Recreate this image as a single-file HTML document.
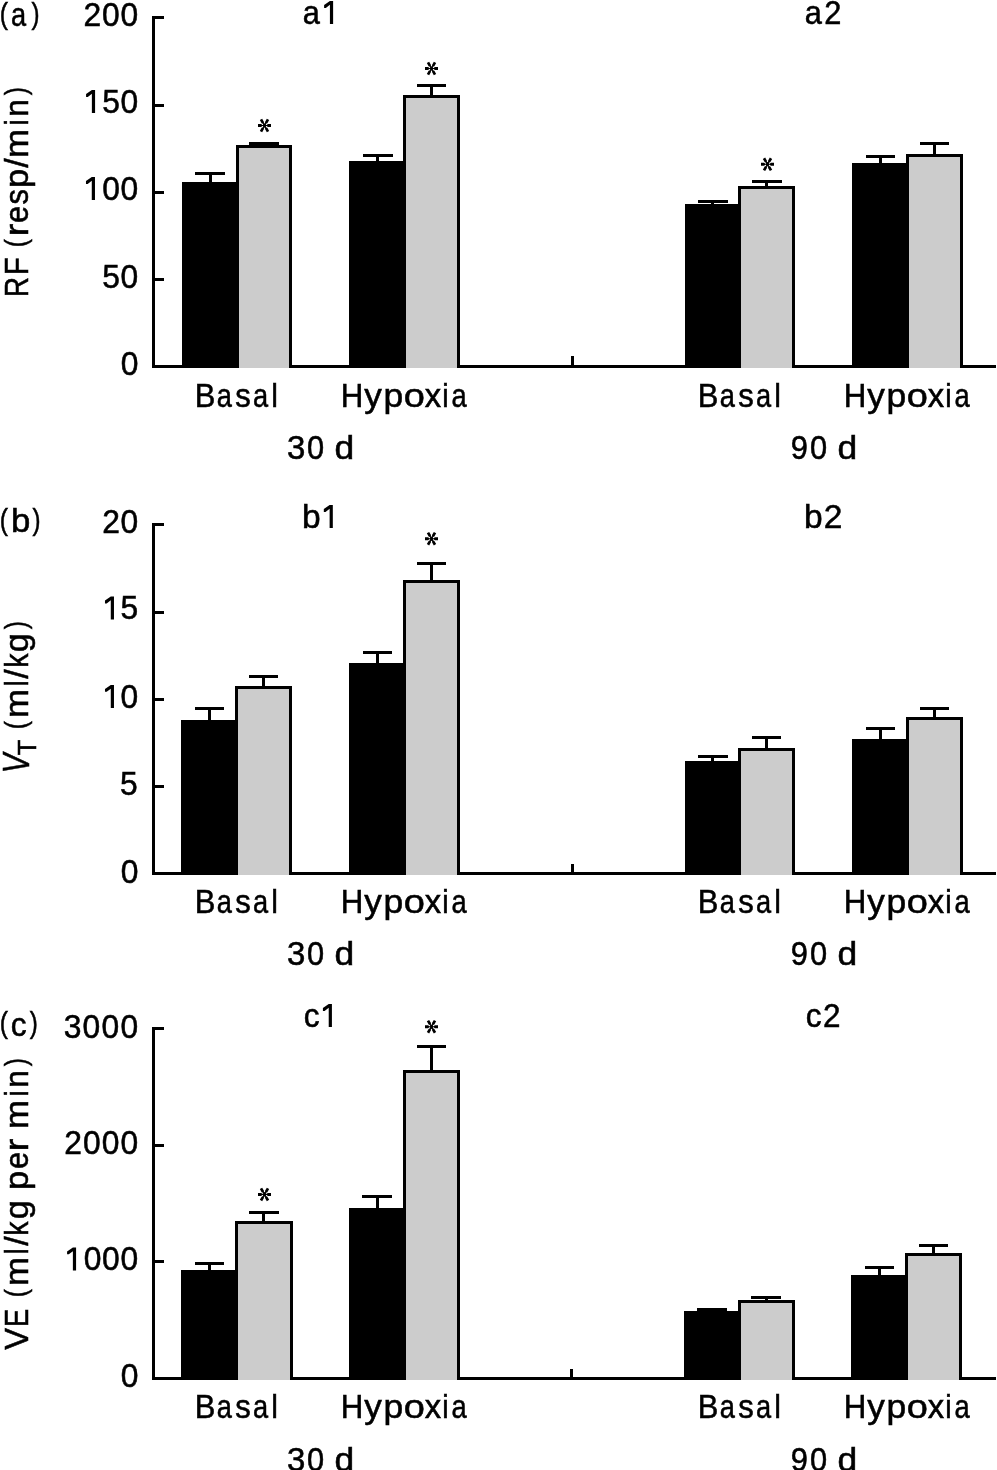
<!DOCTYPE html>
<html><head><meta charset="utf-8"><title>Figure</title>
<style>
html,body{margin:0;padding:0;background:#fff;}
body{width:997px;height:1470px;overflow:hidden;}
svg{display:block;will-change:transform;}
text{font-family:"Liberation Sans",sans-serif;fill:#000;font-kerning:none;stroke:#000;stroke-width:0.55px;}
</style></head><body>
<svg width="997" height="1470" viewBox="0 0 997 1470" shape-rendering="crispEdges">
<rect x="0" y="0" width="997" height="1470" fill="#fff"/>
<rect x="152" y="16" width="3" height="352" fill="#000"/>
<rect x="152" y="365" width="844" height="3" fill="#000"/>
<rect x="571" y="356" width="3" height="9" fill="#000"/>
<rect x="152" y="16" width="12" height="3" fill="#000"/>
<text font-size="33.5" transform="scale(0.95,1)"><tspan x="87.93" y="26.00">2</tspan><tspan x="107.36" y="26.00">0</tspan><tspan x="126.80" y="26.00">0</tspan></text>
<rect x="152" y="104" width="12" height="3" fill="#000"/>
<text font-size="33.5" transform="scale(0.95,1)"><tspan x="107.76" y="113.00">5</tspan><tspan x="126.80" y="113.00">0</tspan></text>
<g fill="#000" shape-rendering="geometricPrecision"><polygon points="91.88,90.00 95.08,90.00 95.08,113.00 91.88,113.00 91.88,93.80 87.78,96.90 86.08,96.90 86.08,94.00"/></g>
<rect x="152" y="191" width="12" height="3" fill="#000"/>
<text font-size="33.5" transform="scale(0.95,1)"><tspan x="107.71" y="200.00">0</tspan><tspan x="126.80" y="200.00">0</tspan></text>
<g fill="#000" shape-rendering="geometricPrecision"><polygon points="91.78,177.00 94.98,177.00 94.98,200.00 91.78,200.00 91.78,180.80 87.68,183.90 85.98,183.90 85.98,181.00"/></g>
<rect x="152" y="278" width="12" height="3" fill="#000"/>
<text font-size="33.5" transform="scale(0.95,1)"><tspan x="107.59" y="288.20">5</tspan><tspan x="126.80" y="288.20">0</tspan></text>
<text font-size="33.5" transform="scale(0.95,1)"><tspan x="126.99" y="374.80">0</tspan></text>
<rect x="152" y="523" width="3" height="352" fill="#000"/>
<rect x="152" y="872" width="844" height="3" fill="#000"/>
<rect x="571" y="864" width="3" height="8" fill="#000"/>
<rect x="152" y="523" width="12" height="3" fill="#000"/>
<text font-size="33.5" transform="scale(0.95,1)"><tspan x="107.56" y="533.00">2</tspan><tspan x="126.80" y="533.00">0</tspan></text>
<rect x="152" y="611" width="12" height="3" fill="#000"/>
<text font-size="33.5" transform="scale(0.95,1)"><tspan x="126.90" y="619.50">5</tspan></text>
<g fill="#000" shape-rendering="geometricPrecision"><polygon points="110.78,596.50 113.98,596.50 113.98,619.50 110.78,619.50 110.78,600.30 106.68,603.40 104.98,603.40 104.98,600.50"/></g>
<rect x="152" y="698" width="12" height="3" fill="#000"/>
<text font-size="33.5" transform="scale(0.95,1)"><tspan x="126.80" y="707.90">0</tspan></text>
<g fill="#000" shape-rendering="geometricPrecision"><polygon points="110.78,684.90 113.98,684.90 113.98,707.90 110.78,707.90 110.78,688.70 106.68,691.80 104.98,691.80 104.98,688.90"/></g>
<rect x="152" y="785" width="12" height="3" fill="#000"/>
<text font-size="33.5" transform="scale(0.95,1)"><tspan x="126.32" y="795.20">5</tspan></text>
<text font-size="33.5" transform="scale(0.95,1)"><tspan x="126.99" y="882.80">0</tspan></text>
<rect x="152" y="1027" width="3" height="353" fill="#000"/>
<rect x="152" y="1377" width="844" height="3" fill="#000"/>
<rect x="570" y="1369" width="3" height="8" fill="#000"/>
<rect x="152" y="1027" width="12" height="3" fill="#000"/>
<text font-size="33.5" transform="scale(0.95,1)"><tspan x="67.02" y="1037.80">3</tspan><tspan x="86.95" y="1037.80">0</tspan><tspan x="106.88" y="1037.80">0</tspan><tspan x="126.80" y="1037.80">0</tspan></text>
<rect x="152" y="1144" width="12" height="3" fill="#000"/>
<text font-size="33.5" transform="scale(0.95,1)"><tspan x="67.66" y="1153.70">2</tspan><tspan x="87.38" y="1153.70">0</tspan><tspan x="107.09" y="1153.70">0</tspan><tspan x="126.80" y="1153.70">0</tspan></text>
<rect x="152" y="1260" width="12" height="3" fill="#000"/>
<text font-size="33.5" transform="scale(0.95,1)"><tspan x="88.08" y="1270.40">0</tspan><tspan x="107.44" y="1270.40">0</tspan><tspan x="126.80" y="1270.40">0</tspan></text>
<g fill="#000" shape-rendering="geometricPrecision"><polygon points="72.88,1247.40 76.08,1247.40 76.08,1270.40 72.88,1270.40 72.88,1251.20 68.78,1254.30 67.08,1254.30 67.08,1251.40"/></g>
<text font-size="33.5" transform="scale(0.95,1)"><tspan x="126.99" y="1386.90">0</tspan></text>
<rect x="182" y="182" width="55" height="186" fill="#000"/>
<rect x="236" y="145" width="56" height="223" fill="#000"/>
<rect x="239" y="148" width="50" height="220" fill="#ccc"/>
<rect x="195" y="172" width="30" height="3" fill="#000"/>
<rect x="209" y="175" width="3" height="7" fill="#000"/>
<rect x="249" y="142" width="30" height="3" fill="#000"/>
<rect x="349" y="161" width="55" height="207" fill="#000"/>
<rect x="403" y="95" width="57" height="273" fill="#000"/>
<rect x="406" y="98" width="51" height="270" fill="#ccc"/>
<rect x="363" y="154" width="30" height="3" fill="#000"/>
<rect x="376" y="157" width="3" height="4" fill="#000"/>
<rect x="417" y="84" width="29" height="3" fill="#000"/>
<rect x="430" y="87" width="3" height="8" fill="#000"/>
<rect x="685" y="204" width="54" height="164" fill="#000"/>
<rect x="738" y="186" width="57" height="182" fill="#000"/>
<rect x="741" y="189" width="51" height="179" fill="#ccc"/>
<rect x="698" y="200" width="30" height="3" fill="#000"/>
<rect x="711" y="203" width="3" height="1" fill="#000"/>
<rect x="752" y="180" width="30" height="3" fill="#000"/>
<rect x="765" y="183" width="3" height="3" fill="#000"/>
<rect x="852" y="163" width="55" height="205" fill="#000"/>
<rect x="906" y="154" width="57" height="214" fill="#000"/>
<rect x="909" y="157" width="51" height="211" fill="#ccc"/>
<rect x="866" y="155" width="29" height="3" fill="#000"/>
<rect x="879" y="158" width="3" height="5" fill="#000"/>
<rect x="920" y="142" width="29" height="3" fill="#000"/>
<rect x="933" y="145" width="3" height="9" fill="#000"/>
<rect x="181" y="720" width="55" height="155" fill="#000"/>
<rect x="235" y="686" width="57" height="189" fill="#000"/>
<rect x="238" y="689" width="51" height="186" fill="#ccc"/>
<rect x="195" y="707" width="29" height="3" fill="#000"/>
<rect x="208" y="710" width="3" height="10" fill="#000"/>
<rect x="249" y="675" width="29" height="3" fill="#000"/>
<rect x="262" y="678" width="3" height="8" fill="#000"/>
<rect x="349" y="663" width="55" height="212" fill="#000"/>
<rect x="403" y="580" width="57" height="295" fill="#000"/>
<rect x="406" y="583" width="51" height="292" fill="#ccc"/>
<rect x="363" y="651" width="29" height="3" fill="#000"/>
<rect x="376" y="654" width="3" height="9" fill="#000"/>
<rect x="417" y="562" width="29" height="3" fill="#000"/>
<rect x="430" y="565" width="3" height="15" fill="#000"/>
<rect x="685" y="761" width="54" height="114" fill="#000"/>
<rect x="738" y="748" width="57" height="127" fill="#000"/>
<rect x="741" y="751" width="51" height="124" fill="#ccc"/>
<rect x="698" y="755" width="30" height="3" fill="#000"/>
<rect x="711" y="758" width="3" height="3" fill="#000"/>
<rect x="752" y="736" width="29" height="3" fill="#000"/>
<rect x="765" y="739" width="3" height="9" fill="#000"/>
<rect x="852" y="739" width="55" height="136" fill="#000"/>
<rect x="906" y="717" width="57" height="158" fill="#000"/>
<rect x="909" y="720" width="51" height="155" fill="#ccc"/>
<rect x="866" y="727" width="29" height="3" fill="#000"/>
<rect x="879" y="730" width="3" height="9" fill="#000"/>
<rect x="920" y="707" width="29" height="3" fill="#000"/>
<rect x="933" y="710" width="3" height="7" fill="#000"/>
<rect x="181" y="1270" width="55" height="110" fill="#000"/>
<rect x="235" y="1221" width="58" height="159" fill="#000"/>
<rect x="238" y="1224" width="52" height="156" fill="#ccc"/>
<rect x="195" y="1262" width="29" height="3" fill="#000"/>
<rect x="208" y="1265" width="3" height="5" fill="#000"/>
<rect x="249" y="1211" width="30" height="3" fill="#000"/>
<rect x="262" y="1214" width="3" height="7" fill="#000"/>
<rect x="349" y="1208" width="55" height="172" fill="#000"/>
<rect x="403" y="1070" width="57" height="310" fill="#000"/>
<rect x="406" y="1073" width="51" height="307" fill="#ccc"/>
<rect x="362" y="1195" width="30" height="3" fill="#000"/>
<rect x="376" y="1198" width="3" height="10" fill="#000"/>
<rect x="417" y="1045" width="29" height="3" fill="#000"/>
<rect x="430" y="1048" width="3" height="22" fill="#000"/>
<rect x="684" y="1311" width="55" height="69" fill="#000"/>
<rect x="738" y="1300" width="57" height="80" fill="#000"/>
<rect x="741" y="1303" width="51" height="77" fill="#ccc"/>
<rect x="697" y="1308" width="30" height="3" fill="#000"/>
<rect x="751" y="1296" width="30" height="3" fill="#000"/>
<rect x="765" y="1299" width="3" height="1" fill="#000"/>
<rect x="851" y="1275" width="55" height="105" fill="#000"/>
<rect x="905" y="1253" width="57" height="127" fill="#000"/>
<rect x="908" y="1256" width="51" height="124" fill="#ccc"/>
<rect x="865" y="1266" width="29" height="3" fill="#000"/>
<rect x="878" y="1269" width="3" height="6" fill="#000"/>
<rect x="919" y="1244" width="29" height="3" fill="#000"/>
<rect x="932" y="1247" width="3" height="6" fill="#000"/>
<g transform="translate(264.5,125.5)" fill="#000" shape-rendering="geometricPrecision"><ellipse cx="0" cy="0" rx="1.5" ry="2.3"/><polygon points="0.00,0.45 2.20,0.55 3.40,1.50 6.50,1.50 6.50,-1.50 3.40,-1.50 2.20,-0.55 0.00,-0.45"/><polygon points="-0.00,-0.45 -2.20,-0.55 -3.40,-1.50 -6.50,-1.50 -6.50,1.50 -3.40,1.50 -2.20,0.55 0.00,0.45"/><polygon points="-0.39,0.23 0.62,2.18 0.53,3.62 2.33,6.74 4.67,5.39 2.87,2.27 1.58,1.63 0.39,-0.23"/><polygon points="-0.39,-0.22 -1.58,1.63 -2.87,2.27 -4.67,5.39 -2.33,6.74 -0.53,3.62 -0.62,2.18 0.39,0.22"/><polygon points="0.39,-0.23 -0.62,-2.18 -0.53,-3.62 -2.33,-6.74 -4.67,-5.39 -2.87,-2.27 -1.58,-1.63 -0.39,0.23"/><polygon points="0.39,0.23 1.58,-1.63 2.87,-2.27 4.67,-5.39 2.33,-6.74 0.53,-3.62 0.62,-2.18 -0.39,-0.23"/></g>
<g transform="translate(431.5,68.5)" fill="#000" shape-rendering="geometricPrecision"><ellipse cx="0" cy="0" rx="1.5" ry="2.3"/><polygon points="0.00,0.45 2.20,0.55 3.40,1.50 6.50,1.50 6.50,-1.50 3.40,-1.50 2.20,-0.55 0.00,-0.45"/><polygon points="-0.00,-0.45 -2.20,-0.55 -3.40,-1.50 -6.50,-1.50 -6.50,1.50 -3.40,1.50 -2.20,0.55 0.00,0.45"/><polygon points="-0.39,0.23 0.62,2.18 0.53,3.62 2.33,6.74 4.67,5.39 2.87,2.27 1.58,1.63 0.39,-0.23"/><polygon points="-0.39,-0.22 -1.58,1.63 -2.87,2.27 -4.67,5.39 -2.33,6.74 -0.53,3.62 -0.62,2.18 0.39,0.22"/><polygon points="0.39,-0.23 -0.62,-2.18 -0.53,-3.62 -2.33,-6.74 -4.67,-5.39 -2.87,-2.27 -1.58,-1.63 -0.39,0.23"/><polygon points="0.39,0.23 1.58,-1.63 2.87,-2.27 4.67,-5.39 2.33,-6.74 0.53,-3.62 0.62,-2.18 -0.39,-0.23"/></g>
<g transform="translate(767.5,164.3)" fill="#000" shape-rendering="geometricPrecision"><ellipse cx="0" cy="0" rx="1.5" ry="2.3"/><polygon points="0.00,0.45 2.20,0.55 3.40,1.50 6.50,1.50 6.50,-1.50 3.40,-1.50 2.20,-0.55 0.00,-0.45"/><polygon points="-0.00,-0.45 -2.20,-0.55 -3.40,-1.50 -6.50,-1.50 -6.50,1.50 -3.40,1.50 -2.20,0.55 0.00,0.45"/><polygon points="-0.39,0.23 0.62,2.18 0.53,3.62 2.33,6.74 4.67,5.39 2.87,2.27 1.58,1.63 0.39,-0.23"/><polygon points="-0.39,-0.22 -1.58,1.63 -2.87,2.27 -4.67,5.39 -2.33,6.74 -0.53,3.62 -0.62,2.18 0.39,0.22"/><polygon points="0.39,-0.23 -0.62,-2.18 -0.53,-3.62 -2.33,-6.74 -4.67,-5.39 -2.87,-2.27 -1.58,-1.63 -0.39,0.23"/><polygon points="0.39,0.23 1.58,-1.63 2.87,-2.27 4.67,-5.39 2.33,-6.74 0.53,-3.62 0.62,-2.18 -0.39,-0.23"/></g>
<g transform="translate(431.5,538.7)" fill="#000" shape-rendering="geometricPrecision"><ellipse cx="0" cy="0" rx="1.5" ry="2.3"/><polygon points="0.00,0.45 2.20,0.55 3.40,1.50 6.50,1.50 6.50,-1.50 3.40,-1.50 2.20,-0.55 0.00,-0.45"/><polygon points="-0.00,-0.45 -2.20,-0.55 -3.40,-1.50 -6.50,-1.50 -6.50,1.50 -3.40,1.50 -2.20,0.55 0.00,0.45"/><polygon points="-0.39,0.23 0.62,2.18 0.53,3.62 2.33,6.74 4.67,5.39 2.87,2.27 1.58,1.63 0.39,-0.23"/><polygon points="-0.39,-0.22 -1.58,1.63 -2.87,2.27 -4.67,5.39 -2.33,6.74 -0.53,3.62 -0.62,2.18 0.39,0.22"/><polygon points="0.39,-0.23 -0.62,-2.18 -0.53,-3.62 -2.33,-6.74 -4.67,-5.39 -2.87,-2.27 -1.58,-1.63 -0.39,0.23"/><polygon points="0.39,0.23 1.58,-1.63 2.87,-2.27 4.67,-5.39 2.33,-6.74 0.53,-3.62 0.62,-2.18 -0.39,-0.23"/></g>
<g transform="translate(264.5,1194.4)" fill="#000" shape-rendering="geometricPrecision"><ellipse cx="0" cy="0" rx="1.5" ry="2.3"/><polygon points="0.00,0.45 2.20,0.55 3.40,1.50 6.50,1.50 6.50,-1.50 3.40,-1.50 2.20,-0.55 0.00,-0.45"/><polygon points="-0.00,-0.45 -2.20,-0.55 -3.40,-1.50 -6.50,-1.50 -6.50,1.50 -3.40,1.50 -2.20,0.55 0.00,0.45"/><polygon points="-0.39,0.23 0.62,2.18 0.53,3.62 2.33,6.74 4.67,5.39 2.87,2.27 1.58,1.63 0.39,-0.23"/><polygon points="-0.39,-0.22 -1.58,1.63 -2.87,2.27 -4.67,5.39 -2.33,6.74 -0.53,3.62 -0.62,2.18 0.39,0.22"/><polygon points="0.39,-0.23 -0.62,-2.18 -0.53,-3.62 -2.33,-6.74 -4.67,-5.39 -2.87,-2.27 -1.58,-1.63 -0.39,0.23"/><polygon points="0.39,0.23 1.58,-1.63 2.87,-2.27 4.67,-5.39 2.33,-6.74 0.53,-3.62 0.62,-2.18 -0.39,-0.23"/></g>
<g transform="translate(431.5,1026.7)" fill="#000" shape-rendering="geometricPrecision"><ellipse cx="0" cy="0" rx="1.5" ry="2.3"/><polygon points="0.00,0.45 2.20,0.55 3.40,1.50 6.50,1.50 6.50,-1.50 3.40,-1.50 2.20,-0.55 0.00,-0.45"/><polygon points="-0.00,-0.45 -2.20,-0.55 -3.40,-1.50 -6.50,-1.50 -6.50,1.50 -3.40,1.50 -2.20,0.55 0.00,0.45"/><polygon points="-0.39,0.23 0.62,2.18 0.53,3.62 2.33,6.74 4.67,5.39 2.87,2.27 1.58,1.63 0.39,-0.23"/><polygon points="-0.39,-0.22 -1.58,1.63 -2.87,2.27 -4.67,5.39 -2.33,6.74 -0.53,3.62 -0.62,2.18 0.39,0.22"/><polygon points="0.39,-0.23 -0.62,-2.18 -0.53,-3.62 -2.33,-6.74 -4.67,-5.39 -2.87,-2.27 -1.58,-1.63 -0.39,0.23"/><polygon points="0.39,0.23 1.58,-1.63 2.87,-2.27 4.67,-5.39 2.33,-6.74 0.53,-3.62 0.62,-2.18 -0.39,-0.23"/></g>
<text font-size="33.5" transform="scale(0.92,1)"><tspan x="329.21" y="24.00">a</tspan></text>
<g fill="#000" shape-rendering="geometricPrecision"><polygon points="329.92,1.00 333.12,1.00 333.12,24.00 329.92,24.00 329.92,4.80 325.82,7.90 324.12,7.90 324.12,5.00"/></g>
<text font-size="33.5" transform="scale(0.92,1)"><tspan x="874.75" y="24.00">a</tspan><tspan x="896.01" y="24.00">2</tspan></text>
<text font-size="33.5"><tspan x="301.92" y="528.00">b</tspan></text>
<g fill="#000" shape-rendering="geometricPrecision"><polygon points="329.62,505.00 332.82,505.00 332.82,528.00 329.62,528.00 329.62,508.80 325.52,511.90 323.82,511.90 323.82,509.00"/></g>
<text font-size="33.5"><tspan x="803.92" y="528.00">b</tspan><tspan x="823.77" y="528.00">2</tspan></text>
<text font-size="33.5" transform="scale(0.94,1)"><tspan x="323.02" y="1027.00">c</tspan></text>
<g fill="#000" shape-rendering="geometricPrecision"><polygon points="328.72,1004.00 331.92,1004.00 331.92,1027.00 328.72,1027.00 328.72,1007.80 324.62,1010.90 322.92,1010.90 322.92,1008.00"/></g>
<text font-size="33.5" transform="scale(0.94,1)"><tspan x="857.28" y="1027.00">c</tspan><tspan x="875.52" y="1027.00">2</tspan></text>
<text transform="translate(28.00,294.72) rotate(-90) scale(0.8144,1)" x="-2.79" y="0" font-size="34.00">R</text>
<text transform="translate(28.00,272.72) rotate(-90) scale(0.8689,1)" x="-2.79" y="0" font-size="34.00">F</text>
<text transform="translate(25.70,245.72) rotate(-90) scale(0.8056,1)" x="-1.87" y="0" font-size="30.15">(</text>
<text transform="translate(28.00,233.72) rotate(-90) scale(1.1106,1)" x="-2.26" y="0" font-size="34.00">r</text>
<text transform="translate(28.00,221.72) rotate(-90) scale(0.9051,1)" x="-1.44" y="0" font-size="34.00">e</text>
<text transform="translate(28.00,203.72) rotate(-90) scale(0.9066,1)" x="-0.95" y="0" font-size="34.00">s</text>
<text transform="translate(28.00,185.72) rotate(-90) scale(1.0098,1)" x="-2.19" y="0" font-size="34.00">p</text>
<text transform="translate(28.00,167.72) rotate(-90) scale(0.9993,1)" x="-0.00" y="0" font-size="34.00">/</text>
<text transform="translate(28.00,155.72) rotate(-90) scale(1.0259,1)" x="-2.26" y="0" font-size="34.00">m</text>
<text transform="translate(28.00,123.72) rotate(-90) scale(0.8165,1)" x="-2.27" y="0" font-size="34.00">i</text>
<text transform="translate(28.00,114.72) rotate(-90) scale(0.9305,1)" x="-2.26" y="0" font-size="34.00">n</text>
<text transform="translate(25.70,95.10) rotate(-90) scale(0.8000,1)" x="-0.18" y="0" font-size="30.15">)</text>
<text transform="translate(28.00,1349.72) rotate(-90) scale(0.9580,1)" x="-0.15" y="0" font-size="34.00">V</text>
<text transform="translate(28.00,1324.87) rotate(-90) scale(0.8000,1)" x="-2.79" y="0" font-size="34.00">E</text>
<text transform="translate(25.70,1295.72) rotate(-90) scale(0.8056,1)" x="-1.87" y="0" font-size="30.15">(</text>
<text transform="translate(28.00,1283.72) rotate(-90) scale(1.0259,1)" x="-2.26" y="0" font-size="34.00">m</text>
<text transform="translate(28.00,1252.72) rotate(-90) scale(0.8165,1)" x="-2.29" y="0" font-size="34.00">l</text>
<text transform="translate(28.00,1245.72) rotate(-90) scale(0.9993,1)" x="-0.00" y="0" font-size="34.00">/</text>
<text transform="translate(28.00,1233.72) rotate(-90) scale(0.8429,1)" x="-2.29" y="0" font-size="34.00">k</text>
<text transform="translate(28.00,1217.72) rotate(-90) scale(1.0098,1)" x="-1.43" y="0" font-size="34.00">g</text>
<text transform="translate(28.00,1187.72) rotate(-90) scale(1.0098,1)" x="-2.19" y="0" font-size="34.00">p</text>
<text transform="translate(28.00,1167.72) rotate(-90) scale(0.9051,1)" x="-1.44" y="0" font-size="34.00">e</text>
<text transform="translate(28.00,1148.72) rotate(-90) scale(1.1106,1)" x="-2.26" y="0" font-size="34.00">r</text>
<text transform="translate(28.00,1126.72) rotate(-90) scale(1.0259,1)" x="-2.26" y="0" font-size="34.00">m</text>
<text transform="translate(28.00,1094.72) rotate(-90) scale(0.8165,1)" x="-2.27" y="0" font-size="34.00">i</text>
<text transform="translate(28.00,1085.72) rotate(-90) scale(0.9305,1)" x="-2.26" y="0" font-size="34.00">n</text>
<text transform="translate(25.70,1066.20) rotate(-90) scale(0.8000,1)" x="-0.18" y="0" font-size="30.15">)</text>
<text transform="translate(28.50,770.72) rotate(-90) scale(0.8092,1)" x="-3.15" y="0" font-size="36.50" font-style="italic">V</text>
<text transform="translate(36.00,754.72) rotate(-90) scale(0.9710,1)" x="-0.59" y="0" font-size="26.30">T</text>
<text transform="translate(25.70,727.72) rotate(-90) scale(0.8056,1)" x="-1.87" y="0" font-size="30.15">(</text>
<text transform="translate(28.00,715.72) rotate(-90) scale(1.0259,1)" x="-2.26" y="0" font-size="34.00">m</text>
<text transform="translate(28.00,684.72) rotate(-90) scale(0.8165,1)" x="-2.29" y="0" font-size="34.00">l</text>
<text transform="translate(28.00,678.72) rotate(-90) scale(0.9993,1)" x="-0.00" y="0" font-size="34.00">/</text>
<text transform="translate(28.00,665.72) rotate(-90) scale(0.8429,1)" x="-2.29" y="0" font-size="34.00">k</text>
<text transform="translate(28.00,650.72) rotate(-90) scale(1.0098,1)" x="-1.43" y="0" font-size="34.00">g</text>
<text transform="translate(25.70,629.20) rotate(-90) scale(0.8000,1)" x="-0.18" y="0" font-size="30.15">)</text>
<text transform="translate(197.18,407.00) scale(0.9085,1)" x="-2.79" y="0" font-size="34.00">B</text>
<text transform="translate(217.91,407.00) scale(0.8000,1)" x="-1.44" y="0" font-size="34.00">a</text>
<text transform="translate(236.18,407.00) scale(0.9133,1)" x="-0.95" y="0" font-size="34.00">s</text>
<text transform="translate(254.06,407.00) scale(0.8000,1)" x="-1.44" y="0" font-size="34.00">a</text>
<text transform="translate(273.38,407.00) scale(0.8835,1)" x="-2.29" y="0" font-size="34.00">l</text>
<text transform="translate(343.28,407.00) scale(0.9183,1)" x="-2.79" y="0" font-size="34.00">H</text>
<text transform="translate(364.28,407.00) scale(1.0350,1)" x="-0.08" y="0" font-size="34.00">y</text>
<text transform="translate(385.68,407.00) scale(1.0425,1)" x="-2.19" y="0" font-size="34.00">p</text>
<text transform="translate(405.28,407.00) scale(1.1175,1)" x="-1.43" y="0" font-size="34.00">o</text>
<text transform="translate(424.98,407.00) scale(0.9623,1)" x="-0.38" y="0" font-size="34.00">x</text>
<text transform="translate(444.18,407.00) scale(0.8500,1)" x="-2.27" y="0" font-size="34.00">i</text>
<text transform="translate(452.68,407.00) scale(0.8039,1)" x="-1.44" y="0" font-size="34.00">a</text>
<text transform="translate(288.18,459.00) scale(0.9847,1)" x="-1.28" y="0" font-size="33.50">3</text>
<text transform="translate(308.18,459.00) scale(0.9204,1)" x="-1.31" y="0" font-size="33.50">0</text>
<text transform="translate(335.98,459.00) scale(1.0425,1)" x="-1.43" y="0" font-size="34.00">d</text>
<text transform="translate(700.18,407.00) scale(0.9085,1)" x="-2.79" y="0" font-size="34.00">B</text>
<text transform="translate(720.91,407.00) scale(0.8000,1)" x="-1.44" y="0" font-size="34.00">a</text>
<text transform="translate(739.18,407.00) scale(0.9133,1)" x="-0.95" y="0" font-size="34.00">s</text>
<text transform="translate(757.06,407.00) scale(0.8000,1)" x="-1.44" y="0" font-size="34.00">a</text>
<text transform="translate(776.38,407.00) scale(0.8835,1)" x="-2.29" y="0" font-size="34.00">l</text>
<text transform="translate(846.28,407.00) scale(0.9183,1)" x="-2.79" y="0" font-size="34.00">H</text>
<text transform="translate(867.28,407.00) scale(1.0350,1)" x="-0.08" y="0" font-size="34.00">y</text>
<text transform="translate(888.68,407.00) scale(1.0425,1)" x="-2.19" y="0" font-size="34.00">p</text>
<text transform="translate(908.28,407.00) scale(1.1175,1)" x="-1.43" y="0" font-size="34.00">o</text>
<text transform="translate(927.98,407.00) scale(0.9623,1)" x="-0.38" y="0" font-size="34.00">x</text>
<text transform="translate(947.18,407.00) scale(0.8500,1)" x="-2.27" y="0" font-size="34.00">i</text>
<text transform="translate(955.68,407.00) scale(0.8039,1)" x="-1.44" y="0" font-size="34.00">a</text>
<text transform="translate(792.18,459.00) scale(0.9202,1)" x="-1.57" y="0" font-size="33.50">9</text>
<text transform="translate(811.18,459.00) scale(0.9204,1)" x="-1.31" y="0" font-size="33.50">0</text>
<text transform="translate(838.98,459.00) scale(1.0425,1)" x="-1.43" y="0" font-size="34.00">d</text>
<text transform="translate(197.18,913.00) scale(0.9085,1)" x="-2.79" y="0" font-size="34.00">B</text>
<text transform="translate(217.91,913.00) scale(0.8000,1)" x="-1.44" y="0" font-size="34.00">a</text>
<text transform="translate(236.18,913.00) scale(0.9133,1)" x="-0.95" y="0" font-size="34.00">s</text>
<text transform="translate(254.06,913.00) scale(0.8000,1)" x="-1.44" y="0" font-size="34.00">a</text>
<text transform="translate(273.38,913.00) scale(0.8835,1)" x="-2.29" y="0" font-size="34.00">l</text>
<text transform="translate(343.28,913.00) scale(0.9183,1)" x="-2.79" y="0" font-size="34.00">H</text>
<text transform="translate(364.28,913.00) scale(1.0350,1)" x="-0.08" y="0" font-size="34.00">y</text>
<text transform="translate(385.68,913.00) scale(1.0425,1)" x="-2.19" y="0" font-size="34.00">p</text>
<text transform="translate(405.28,913.00) scale(1.1175,1)" x="-1.43" y="0" font-size="34.00">o</text>
<text transform="translate(424.98,913.00) scale(0.9623,1)" x="-0.38" y="0" font-size="34.00">x</text>
<text transform="translate(444.18,913.00) scale(0.8500,1)" x="-2.27" y="0" font-size="34.00">i</text>
<text transform="translate(452.68,913.00) scale(0.8039,1)" x="-1.44" y="0" font-size="34.00">a</text>
<text transform="translate(288.18,965.00) scale(0.9847,1)" x="-1.28" y="0" font-size="33.50">3</text>
<text transform="translate(308.18,965.00) scale(0.9204,1)" x="-1.31" y="0" font-size="33.50">0</text>
<text transform="translate(335.98,965.00) scale(1.0425,1)" x="-1.43" y="0" font-size="34.00">d</text>
<text transform="translate(700.18,913.00) scale(0.9085,1)" x="-2.79" y="0" font-size="34.00">B</text>
<text transform="translate(720.91,913.00) scale(0.8000,1)" x="-1.44" y="0" font-size="34.00">a</text>
<text transform="translate(739.18,913.00) scale(0.9133,1)" x="-0.95" y="0" font-size="34.00">s</text>
<text transform="translate(757.06,913.00) scale(0.8000,1)" x="-1.44" y="0" font-size="34.00">a</text>
<text transform="translate(776.38,913.00) scale(0.8835,1)" x="-2.29" y="0" font-size="34.00">l</text>
<text transform="translate(846.28,913.00) scale(0.9183,1)" x="-2.79" y="0" font-size="34.00">H</text>
<text transform="translate(867.28,913.00) scale(1.0350,1)" x="-0.08" y="0" font-size="34.00">y</text>
<text transform="translate(888.68,913.00) scale(1.0425,1)" x="-2.19" y="0" font-size="34.00">p</text>
<text transform="translate(908.28,913.00) scale(1.1175,1)" x="-1.43" y="0" font-size="34.00">o</text>
<text transform="translate(927.98,913.00) scale(0.9623,1)" x="-0.38" y="0" font-size="34.00">x</text>
<text transform="translate(947.18,913.00) scale(0.8500,1)" x="-2.27" y="0" font-size="34.00">i</text>
<text transform="translate(955.68,913.00) scale(0.8039,1)" x="-1.44" y="0" font-size="34.00">a</text>
<text transform="translate(792.18,965.00) scale(0.9202,1)" x="-1.57" y="0" font-size="33.50">9</text>
<text transform="translate(811.18,965.00) scale(0.9204,1)" x="-1.31" y="0" font-size="33.50">0</text>
<text transform="translate(838.98,965.00) scale(1.0425,1)" x="-1.43" y="0" font-size="34.00">d</text>
<text transform="translate(197.18,1418.00) scale(0.9085,1)" x="-2.79" y="0" font-size="34.00">B</text>
<text transform="translate(217.91,1418.00) scale(0.8000,1)" x="-1.44" y="0" font-size="34.00">a</text>
<text transform="translate(236.18,1418.00) scale(0.9133,1)" x="-0.95" y="0" font-size="34.00">s</text>
<text transform="translate(254.06,1418.00) scale(0.8000,1)" x="-1.44" y="0" font-size="34.00">a</text>
<text transform="translate(273.38,1418.00) scale(0.8835,1)" x="-2.29" y="0" font-size="34.00">l</text>
<text transform="translate(343.28,1418.00) scale(0.9183,1)" x="-2.79" y="0" font-size="34.00">H</text>
<text transform="translate(364.28,1418.00) scale(1.0350,1)" x="-0.08" y="0" font-size="34.00">y</text>
<text transform="translate(385.68,1418.00) scale(1.0425,1)" x="-2.19" y="0" font-size="34.00">p</text>
<text transform="translate(405.28,1418.00) scale(1.1175,1)" x="-1.43" y="0" font-size="34.00">o</text>
<text transform="translate(424.98,1418.00) scale(0.9623,1)" x="-0.38" y="0" font-size="34.00">x</text>
<text transform="translate(444.18,1418.00) scale(0.8500,1)" x="-2.27" y="0" font-size="34.00">i</text>
<text transform="translate(452.68,1418.00) scale(0.8039,1)" x="-1.44" y="0" font-size="34.00">a</text>
<text transform="translate(288.18,1471.00) scale(0.9847,1)" x="-1.28" y="0" font-size="33.50">3</text>
<text transform="translate(308.18,1471.00) scale(0.9204,1)" x="-1.31" y="0" font-size="33.50">0</text>
<text transform="translate(335.98,1471.00) scale(1.0425,1)" x="-1.43" y="0" font-size="34.00">d</text>
<text transform="translate(700.18,1418.00) scale(0.9085,1)" x="-2.79" y="0" font-size="34.00">B</text>
<text transform="translate(720.91,1418.00) scale(0.8000,1)" x="-1.44" y="0" font-size="34.00">a</text>
<text transform="translate(739.18,1418.00) scale(0.9133,1)" x="-0.95" y="0" font-size="34.00">s</text>
<text transform="translate(757.06,1418.00) scale(0.8000,1)" x="-1.44" y="0" font-size="34.00">a</text>
<text transform="translate(776.38,1418.00) scale(0.8835,1)" x="-2.29" y="0" font-size="34.00">l</text>
<text transform="translate(846.28,1418.00) scale(0.9183,1)" x="-2.79" y="0" font-size="34.00">H</text>
<text transform="translate(867.28,1418.00) scale(1.0350,1)" x="-0.08" y="0" font-size="34.00">y</text>
<text transform="translate(888.68,1418.00) scale(1.0425,1)" x="-2.19" y="0" font-size="34.00">p</text>
<text transform="translate(908.28,1418.00) scale(1.1175,1)" x="-1.43" y="0" font-size="34.00">o</text>
<text transform="translate(927.98,1418.00) scale(0.9623,1)" x="-0.38" y="0" font-size="34.00">x</text>
<text transform="translate(947.18,1418.00) scale(0.8500,1)" x="-2.27" y="0" font-size="34.00">i</text>
<text transform="translate(955.68,1418.00) scale(0.8039,1)" x="-1.44" y="0" font-size="34.00">a</text>
<text transform="translate(792.18,1471.00) scale(0.9202,1)" x="-1.57" y="0" font-size="33.50">9</text>
<text transform="translate(811.18,1471.00) scale(0.9204,1)" x="-1.31" y="0" font-size="33.50">0</text>
<text transform="translate(838.98,1471.00) scale(1.0425,1)" x="-1.43" y="0" font-size="34.00">d</text>
<text transform="translate(1.18,23.70) scale(0.8181,1)" x="-1.87" y="0" font-size="30.15">(</text>
<text transform="translate(12.06,26.00) scale(0.8000,1)" x="-1.44" y="0" font-size="34.00">a</text>
<text transform="translate(31.75,23.70) scale(0.8000,1)" x="-0.18" y="0" font-size="30.15">)</text>
<text transform="translate(1.18,529.50) scale(0.8181,1)" x="-1.87" y="0" font-size="30.15">(</text>
<text transform="translate(13.18,531.80) scale(1.0229,1)" x="-2.19" y="0" font-size="34.00">b</text>
<text transform="translate(32.75,529.50) scale(0.8000,1)" x="-0.18" y="0" font-size="30.15">)</text>
<text transform="translate(1.18,1033.20) scale(0.8181,1)" x="-1.87" y="0" font-size="30.15">(</text>
<text transform="translate(12.18,1035.50) scale(0.9305,1)" x="-1.44" y="0" font-size="34.00">c</text>
<text transform="translate(29.80,1033.20) scale(0.8000,1)" x="-0.18" y="0" font-size="30.15">)</text>
</svg>
</body></html>
